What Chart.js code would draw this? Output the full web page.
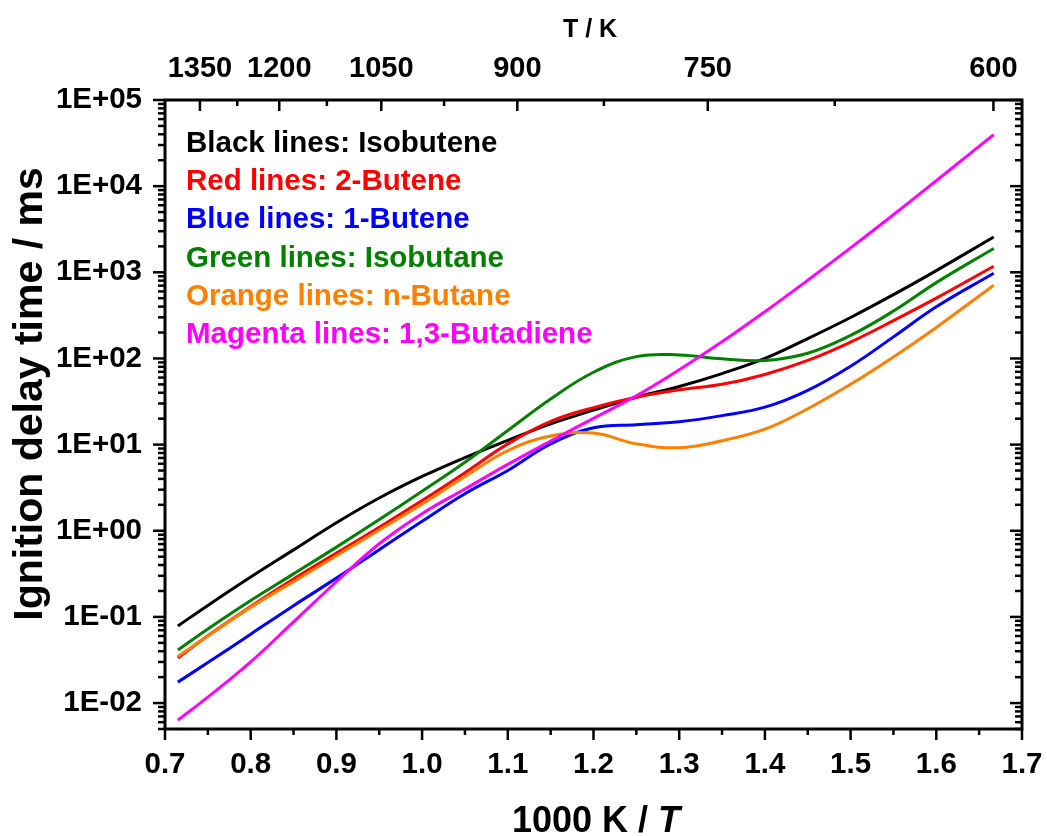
<!DOCTYPE html>
<html>
<head>
<meta charset="utf-8">
<script src="https://cdn.jsdelivr.net/npm/chart.js@4.4.1/dist/chart.umd.min.js"></script>
<style>
body { margin: 0; background: #fff; }
#box { width: 1047px; height: 836px; position: relative; }
</style>
</head>
<body>
<div id="box"><canvas id="grafico"></canvas></div>
<script>
// 1000 K / T positions of the computed points
var invT = [0.715, 0.75, 0.8, 0.85, 0.9, 0.95, 1.0, 1.05, 1.1, 1.15, 1.2, 1.25, 1.3, 1.35, 1.4, 1.45, 1.5, 1.55, 1.6, 1.667];

// ignition delay times in ms
var isobutene = [0.0785, 0.136, 0.29, 0.60, 1.24, 2.40, 4.27, 7.08, 11.2, 17.4, 25.1, 35.5, 47.3, 66.8, 100, 170, 299, 550, 1047, 2570];
var butene2 = [0.0333, 0.0603, 0.132, 0.275, 0.55, 1.10, 2.24, 4.72, 10.2, 18.6, 26.9, 35.5, 43.3, 50.1, 65.2, 94.8, 155, 275, 501, 1175];
var butene1 = [0.0175, 0.0295, 0.0631, 0.135, 0.282, 0.603, 1.29, 2.69, 5.01, 10.2, 15.7, 17.0, 18.4, 21.7, 27.2, 42.7, 81.3, 178, 398, 977];
var isobutane = [0.0413, 0.0724, 0.155, 0.316, 0.646, 1.35, 2.88, 6.24, 14.6, 33.9, 69.2, 105, 110, 99.1, 94.8, 115, 185, 355, 759, 1890];
var nbutane = [0.0347, 0.060, 0.129, 0.257, 0.513, 1.02, 2.04, 4.27, 8.51, 12.6, 13.6, 10.2, 9.2, 11.1, 15.1, 26.1, 50.1, 104, 229, 708];
var butadiene = [0.00634, 0.0117, 0.030, 0.0875, 0.256, 0.706, 1.58, 3.05, 5.89, 11.0, 20.2, 36.9, 73.8, 156, 349, 809, 1919, 4656, 11560, 39700];

var xTicks = [0.7, 0.8, 0.9, 1.0, 1.1, 1.2, 1.3, 1.4, 1.5, 1.6, 1.7];
var yTicks = [0.01, 0.1, 1, 10, 100, 1000, 10000, 100000];
var tempTicks = [1350, 1200, 1050, 900, 750, 600];
var tempMinor = [1275, 1125, 975, 825, 675];

var legendText = ['Black lines: Isobutene', 'Red lines: 2-Butene', 'Blue lines: 1-Butene',
  'Green lines: Isobutane', 'Orange lines: n-Butane', 'Magenta lines: 1,3-Butadiene'];
var legendColors = ['#000000', '#ff0000', '#0000ff', '#008000', '#ff8000', '#ff00ff'];

var FONT = "'Liberation Sans', Arial, Helvetica, sans-serif";
Chart.defaults.font.family = FONT;
Chart.defaults.font.weight = 'bold';
Chart.defaults.color = '#000';

function pts(ys) {
  return ys.map(function (y, i) { return { x: invT[i], y: y }; });
}

function line(ys, color) {
  return {
    data: pts(ys),
    borderColor: color,
    borderWidth: 3,
    pointRadius: 0,
    fill: false,
    tension: 0.4
  };
}

function sciLabel(v) {
  var e = Math.round(Math.log10(v));
  var s = String(Math.abs(e));
  if (s.length < 2) s = '0' + s;
  return '1E' + (e < 0 ? '-' : '+') + s;
}

function noPad(s) {
  s.paddingLeft = 0; s.paddingRight = 0; s.paddingTop = 0; s.paddingBottom = 0;
}

// frame, tick marks, legend text and axis titles
var decor = {
  id: 'decor',
  afterDatasetsDraw: function (chart) {
    var ctx = chart.ctx;
    var a = chart.chartArea;
    var xs = chart.scales.x, ys = chart.scales.y;
    ctx.save();
    ctx.strokeStyle = '#000';
    ctx.lineWidth = 3;
    ctx.strokeRect(a.left, a.top, a.right - a.left, a.bottom - a.top);

    ctx.lineWidth = 2.5;
    function tick(x1, y1, x2, y2) {
      ctx.beginPath(); ctx.moveTo(x1, y1); ctx.lineTo(x2, y2); ctx.stroke();
    }
    // bottom ticks
    for (var i = 0; i <= 20; i++) {
      var xv = 0.7 + i * 0.05;
      var px = xs.getPixelForValue(xv);
      var len = (i % 2 === 0) ? 11 : 6;
      tick(px, a.bottom, px, a.bottom + len);
    }
    // left / right ticks
    for (var e = -3; e <= 5; e++) {
      for (var m = 1; m <= 9; m++) {
        var v = m * Math.pow(10, e);
        if (v < ys.min * 0.999 || v > ys.max * 1.001) continue;
        var py = ys.getPixelForValue(v);
        var l = (m === 1) ? 12 : 7;
        tick(a.left - l, py, a.left, py);
        tick(a.right - l, py, a.right, py);
      }
    }
    // top ticks (temperature)
    tempTicks.forEach(function (t) {
      var px = xs.getPixelForValue(1000 / t);
      tick(px, a.top, px, a.top + 11);
    });
    tempMinor.forEach(function (t) {
      var px = xs.getPixelForValue(1000 / t);
      tick(px, a.top, px, a.top + 6);
    });

    // legend text
    ctx.font = 'bold 29.5px ' + FONT;
    ctx.textAlign = 'left';
    ctx.textBaseline = 'alphabetic';
    legendText.forEach(function (t, k) {
      ctx.fillStyle = legendColors[k];
      ctx.fillText(t, 186, 152 + k * 38.2);
    });

    // axis titles
    ctx.fillStyle = '#000';
    ctx.font = 'bold 25px ' + FONT;
    ctx.textAlign = 'center';
    ctx.fillText('T / K', 590, 37);

    ctx.save();
    ctx.translate(42, 394);
    ctx.rotate(-Math.PI / 2);
    ctx.font = 'bold 41px ' + FONT;
    ctx.textAlign = 'center';
    ctx.fillText('Ignition delay time / ms', 0, 0);
    ctx.restore();

    ctx.font = 'bold 36px ' + FONT;
    var p1 = '1000 K / ';
    ctx.textAlign = 'left';
    var w1 = ctx.measureText(p1).width;
    ctx.font = 'italic bold 36px ' + FONT;
    var w2 = ctx.measureText('T').width;
    var x0 = 596 - (w1 + w2) / 2;
    ctx.font = 'bold 36px ' + FONT;
    ctx.fillText(p1, x0, 832);
    ctx.font = 'italic bold 36px ' + FONT;
    ctx.fillText('T', x0 + w1, 832);
    ctx.restore();
  }
};

var ctx = document.querySelector('#grafico').getContext('2d');
var chart = new Chart(ctx, {
  type: 'line',
  data: {
    datasets: [
      line(butadiene, '#ff00ff'),
      line(nbutane, '#ff8000'),
      line(butene2, '#ff0000'),
      line(isobutane, '#008000'),
      line(butene1, '#0000ff'),
      line(isobutene, '#000000')
    ]
  },
  options: {
    responsive: true,
    maintainAspectRatio: false,
    animation: false,
    devicePixelRatio: 1,
    layout: { padding: { left: 0, right: 25, top: 0, bottom: 0 } },
    plugins: { legend: { display: false }, tooltip: { enabled: false } },
    scales: {
      x: {
        type: 'linear', position: 'bottom', min: 0.7, max: 1.7,
        grid: { display: false, drawTicks: false },
        border: { display: false },
        afterBuildTicks: function (s) { s.ticks = xTicks.map(function (v) { return { value: v }; }); },
        ticks: {
          padding: 18, maxRotation: 0, autoSkip: false,
          font: { size: 29.5, weight: 'bold' },
          callback: function (v) { return Number(v).toFixed(1); }
        },
        afterFit: function (s) { s.height = 107; noPad(s); }
      },
      xTop: {
        type: 'linear', position: 'top', min: 0.7, max: 1.7,
        grid: { display: false, drawTicks: false },
        border: { display: false },
        afterBuildTicks: function (s) { s.ticks = tempTicks.map(function (t) { return { value: 1000 / t }; }); },
        ticks: {
          padding: 14, maxRotation: 0, minRotation: 0, autoSkip: false,
          font: { size: 29, weight: 'bold' },
          callback: function (v) { return String(Math.round(1000 / v)); }
        },
        afterFit: function (s) { s.height = 100; noPad(s); }
      },
      y: {
        type: 'logarithmic', position: 'left', min: 0.005, max: 100000,
        grid: { display: false, drawTicks: false },
        border: { display: false },
        afterBuildTicks: function (s) { s.ticks = yTicks.map(function (v) { return { value: v }; }); },
        ticks: {
          padding: 23, autoSkip: false,
          font: { size: 29.5, weight: 'bold' },
          callback: function (v) { return sciLabel(v); }
        },
        afterFit: function (s) { s.width = 165; noPad(s); }
      }
    }
  },
  plugins: [decor]
});
</script>
</body>
</html>
